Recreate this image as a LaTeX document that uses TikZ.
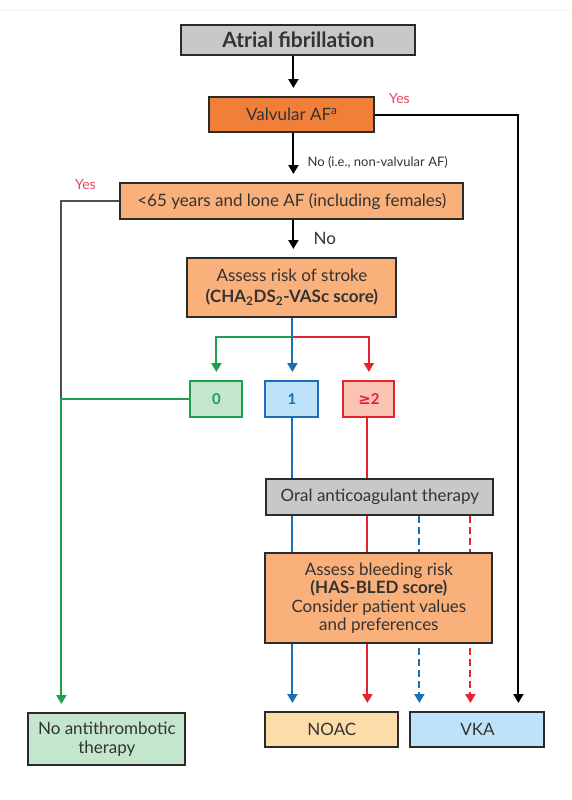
\documentclass[tikz,border=0pt]{standalone}
\usepackage{fontspec}
\setmainfont{Lato}
\newfontfamily\dejavu{DejaVu Sans}
\usetikzlibrary{arrows.meta}
\definecolor{txt}{HTML}{333333}
\definecolor{boxline}{HTML}{2B2B2B}
\definecolor{grayfill}{HTML}{C8C8C8}
\definecolor{darkorange}{HTML}{F07F3A}
\definecolor{lightorange}{HTML}{F9B07A}
\definecolor{greenL}{HTML}{1EA04E}
\definecolor{greenF}{HTML}{C3E6CD}
\definecolor{blueL}{HTML}{1A70B8}
\definecolor{blueF}{HTML}{BEE3F8}
\definecolor{redL}{HTML}{E5232E}
\definecolor{redF}{HTML}{F9C4B4}
\definecolor{noacF}{HTML}{FCDCA8}
\definecolor{yesred}{HTML}{E8455E}
\definecolor{yesline}{HTML}{505050}
\pgfdeclarelayer{bg}
\pgfdeclarelayer{lines}
\pgfsetlayers{bg,lines,main}
\begin{document}
\begin{tikzpicture}[x=1pt,y=-1pt,
  box/.style={draw=boxline, line width=2pt, inner sep=0pt, align=center, text=txt,
    font=\fontsize{17}{19}\selectfont},
  numbox/.style={line width=2pt, inner sep=0pt, minimum height=36pt, font=\bfseries\fontsize{15}{17}\selectfont},
  conn/.style={line width=2pt},
  arr/.style={conn, -{Triangle[width=10pt,length=9pt]}, shorten >=8pt},
  dashline/.style={dash pattern=on 7pt off 4pt},
  yeslbl/.style={text=yesred, font=\fontsize{14}{16}\selectfont, inner sep=0pt},
  nolbl/.style={text=txt, inner sep=0pt, anchor=west}
]
\begin{pgfonlayer}{bg}
\fill[white] (0,0) rectangle (571,800);
\draw[black!5, line width=0.8pt] (0,10) -- (571,10);
\end{pgfonlayer}
\useasboundingbox (0,0) rectangle (571,800);

% nodes
\node[box, fill=grayfill, minimum width=234pt, minimum height=30pt,
  font=\bfseries\fontsize{21}{24}\selectfont] (af) at (298,40) {Atrial fibrillation};
\node[box, fill=darkorange, minimum width=165pt, minimum height=35pt] (vaf) at (291.5,114.5) {Valvular AF\textsuperscript{a}};
\node[box, fill=lightorange, minimum width=343pt, minimum height=36pt] (l65) at (291.5,201) {<65 years and lone AF (including females)};
\node[box, fill=lightorange, minimum width=209pt, minimum height=59pt, font=\fontsize{17}{21}\selectfont] (asr) at (291.5,287.5)
  {Assess risk of stroke\\\textbf{(CHA\textsubscript{2}DS\textsubscript{2}-VASc score)}};
\node[numbox, draw=greenL, fill=greenF, text=greenL, minimum width=52pt] (b0) at (216,399) {0};
\node[numbox, draw=blueL, fill=blueF, text=blueL, minimum width=53pt] (b1) at (291.5,399) {1};
\node[numbox, draw=redL, fill=redF, text=redL, minimum width=51pt] (b2) at (368.5,399) {{\dejavu\bfseries ≥}2};
\node[box, fill=grayfill, minimum width=227pt, minimum height=36pt] (oac) at (379.5,497) {Oral anticoagulant therapy};
\node[box, fill=lightorange, minimum width=227pt, minimum height=90pt, font=\fontsize{17}{18.5}\selectfont] (bld) at (378.5,598)
  {Assess bleeding risk\\\textbf{(HAS-BLED score)}\\Consider patient values\\and preferences};
\node[box, fill=greenF, minimum width=157pt, minimum height=52pt] (noanti) at (106.5,739) {No antithrombotic\\therapy};
\node[box, fill=noacF, minimum width=133pt, minimum height=35pt] (noac) at (331.5,729.5) {NOAC};
\node[box, fill=blueF, minimum width=134pt, minimum height=35pt] (vka) at (477,729.5) {VKA};

% helper coordinates
\coordinate (xmain) at (293,0);
\coordinate (xr) at (518,0);
\coordinate (xl) at (61,0);
\coordinate (xblue) at (292,0);
\coordinate (xred) at (367,0);
\coordinate (xbd) at (419,0);
\coordinate (xrd) at (470,0);
\coordinate (ybr) at (0,337);

\begin{pgfonlayer}{lines}
\draw[arr] (xmain |- af.south) -- (xmain |- vaf.north);
\draw[arr] (xmain |- vaf.south) -- (xmain |- l65.north);
\node[nolbl, font=\fontsize{13}{15}\selectfont] (lblnv) at (307,162) {No (i.e., non-valvular AF)};
\draw[arr] (vaf.east) -- (vaf.east -| xr) -- (xr |- vka.north);
\node[yeslbl] (yes1) at (399,99) {Yes};
\draw[conn, yesline] (l65.west) -- (l65.west -| xl) -- (xl |- b0.west);
\node[yeslbl] (yes2) at (85,185) {Yes};
\draw[arr, greenL] (b0.west) -- (b0.west -| xl) -- (xl |- noanti.north);
\draw[arr] (xmain |- l65.south) -- (xmain |- asr.north);
\node[nolbl, font=\fontsize{17}{19}\selectfont] (lblno) at (313,238) {No};
\draw[arr, greenL] (xblue |- ybr) -- (b0.north |- ybr) -- (b0.north);
\draw[arr, redL] (xblue |- ybr) -- (b2.north |- ybr) -- (b2.north);
\draw[arr, blueL] (xblue |- asr.south) -- (xblue |- b1.north);
\draw[arr, blueL] (xblue |- b1.south) -- (xblue |- noac.north);
\draw[arr, redL] (xred |- b2.south) -- (xred |- noac.north);
\draw[arr, blueL, dashline] (xbd |- oac.south) -- (xbd |- vka.north);
\draw[arr, redL, dashline] (xrd |- oac.south) -- (xrd |- vka.north);
\end{pgfonlayer}
\end{tikzpicture}
\end{document}
